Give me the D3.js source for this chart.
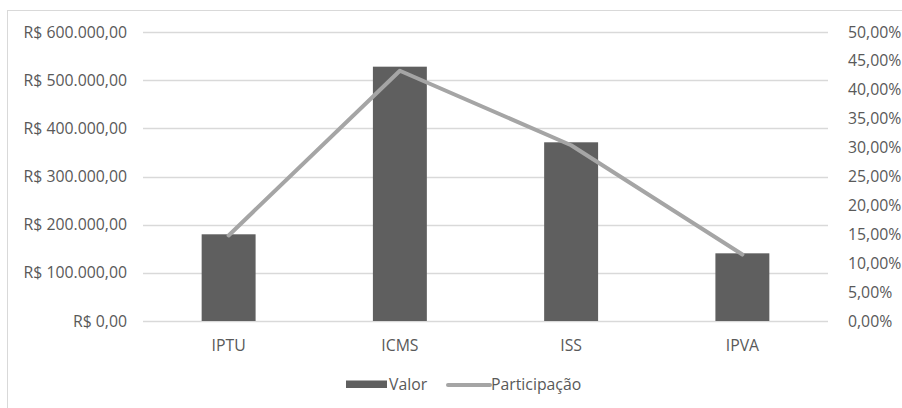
<!DOCTYPE html>
<html>
<head>
<meta charset="utf-8">
<script src="https://cdn.jsdelivr.net/npm/d3@7"></script>
<style>
  body { margin: 0; background: #fff; }
  text { font-family: "Open Sans", sans-serif; fill: #595959; }
</style>
</head>
<body>
<svg width="902" height="408"></svg>
<script>
// Data
const categories = ["IPTU", "ICMS", "ISS", "IPVA"];
const valor = [180000, 528000, 371000, 140500];
const participacao = [0.148, 0.433, 0.304, 0.115];
const valorTicks = [0, 100000, 200000, 300000, 400000, 500000, 600000];
const pctTicks = [0, 0.05, 0.10, 0.15, 0.20, 0.25, 0.30, 0.35, 0.40, 0.45, 0.50];

// Layout
const plot = { left: 143, right: 828, top: 32, bottom: 321 };
const fontSize = "15.8px";

const br = d3.formatLocale({
    decimal: ",",
    thousands: ".",
    grouping: [3],
    currency: ["R$ ", ""]
});
const fmtMoney = br.format("$,.2f");
const fmtPct = br.format(".2%");

const svg = d3.select("svg");

// chart area border (extends past the right and bottom edges)
svg.append("rect")
    .attr("x", 7.5).attr("y", 10.5)
    .attr("width", 1000).attr("height", 1000)
    .attr("fill", "none")
    .attr("stroke", "#d9d9d9");

const x = d3.scaleBand()
    .domain(categories)
    .range([plot.left, plot.right])
    .paddingInner(0.685)
    .paddingOuter(0.3425);

const y = d3.scaleLinear()
    .domain([0, 600000])
    .range([plot.bottom, plot.top]);

const y2 = d3.scaleLinear()
    .domain([0, 0.5])
    .range([plot.bottom, plot.top]);

// gridlines
svg.append("g")
    .selectAll("line")
    .data(valorTicks)
    .join("line")
    .attr("x1", plot.left).attr("x2", plot.right)
    .attr("y1", d => Math.round(y(d)) + 0.5)
    .attr("y2", d => Math.round(y(d)) + 0.5)
    .attr("stroke", "#d9d9d9")
    .attr("stroke-width", 1.3);

function styleAxis(g) {
    g.select(".domain").remove();
    g.selectAll("text")
        .style("font-size", fontSize)
        .style("font-family", "'Open Sans', sans-serif")
        .attr("fill", "#595959");
}

// left axis
svg.append("g")
    .attr("transform", `translate(${plot.left},0)`)
    .call(d3.axisLeft(y).tickValues(valorTicks).tickFormat(fmtMoney).tickSize(0).tickPadding(16))
    .call(styleAxis);

// right axis
svg.append("g")
    .attr("transform", `translate(${plot.right},0)`)
    .call(d3.axisRight(y2).tickValues(pctTicks).tickFormat(fmtPct).tickSize(0).tickPadding(20))
    .call(styleAxis);

// bottom axis labels
svg.append("g")
    .attr("transform", `translate(0,${plot.bottom})`)
    .call(d3.axisBottom(x).tickSize(0).tickPadding(19))
    .call(styleAxis);

// bars
svg.append("g")
    .selectAll("rect")
    .data(valor)
    .join("rect")
    .attr("x", (d, i) => x(categories[i]))
    .attr("y", d => y(d))
    .attr("width", x.bandwidth())
    .attr("height", d => y(0) - y(d))
    .attr("fill", "#5f5f5f");

// line
const line = d3.line()
    .x((d, i) => x(categories[i]) + x.bandwidth() / 2)
    .y(d => y2(d));

svg.append("path")
    .datum(participacao)
    .attr("d", line)
    .attr("fill", "none")
    .attr("stroke", "#a5a5a5")
    .attr("stroke-width", 4)
    .attr("stroke-linejoin", "round")
    .attr("stroke-linecap", "round");

// legend
const legend = svg.append("g").attr("transform", "translate(0,384)");
legend.append("rect")
    .attr("x", 346).attr("y", -3.5)
    .attr("width", 41).attr("height", 7.5)
    .attr("fill", "#5f5f5f");
legend.append("text")
    .attr("x", 389).attr("y", 0).attr("dy", "0.35em")
    .style("font-size", fontSize)
    .text("Valor");
legend.append("line")
    .attr("x1", 448).attr("x2", 490)
    .attr("y1", 1).attr("y2", 1)
    .attr("stroke", "#a5a5a5")
    .attr("stroke-width", 4)
    .attr("stroke-linecap", "round");
legend.append("text")
    .attr("x", 491).attr("y", 0).attr("dy", "0.35em")
    .style("font-size", fontSize)
    .text("Participação");
</script>
</body>
</html>
